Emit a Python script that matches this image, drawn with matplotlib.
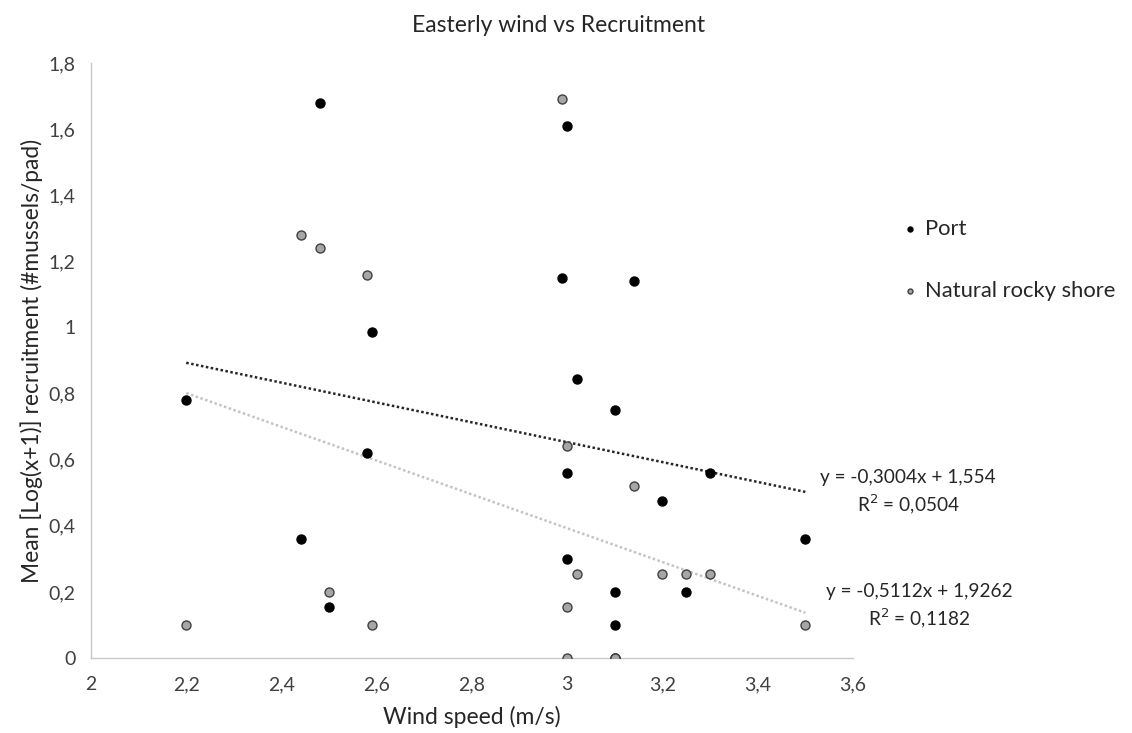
import numpy as np
import matplotlib
matplotlib.use("Agg")
import matplotlib.pyplot as plt

plt.rcParams['font.family'] = ['Lato', 'DejaVu Sans']

# wind speed (m/s), same stations for both series
wind = [2.2, 2.44, 2.48, 2.5, 2.58, 2.59, 2.99, 3.0, 3.0, 3.0,
        3.02, 3.1, 3.1, 3.1, 3.14, 3.2, 3.25, 3.3, 3.5]
port = [0.78, 0.36, 1.68, 0.155, 0.62, 0.985, 1.15, 1.61, 0.56, 0.30,
        0.845, 0.75, 0.20, 0.10, 1.14, 0.475, 0.20, 0.56, 0.36]
natural = [0.10, 1.28, 1.24, 0.20, 1.16, 0.10, 1.69, 0.64, 0.155, 0.0,
           0.255, 0.0, 0.0, 0.0, 0.52, 0.255, 0.255, 0.255, 0.10]

# linear trendlines as reported
port_fit = (-0.3004, 1.554, 0.0504)
nat_fit = (-0.5112, 1.9262, 0.1182)

xticks = [2, 2.2, 2.4, 2.6, 2.8, 3, 3.2, 3.4, 3.6]
yticks = [0, 0.2, 0.4, 0.6, 0.8, 1, 1.2, 1.4, 1.6, 1.8]


def comma(v):
    s = ("%.1f" % v).rstrip("0").rstrip(".")
    return s.replace(".", ",")


fig = plt.figure(figsize=(11.32, 7.33), dpi=100)
ax = fig.add_axes([0.0804, 0.1023, 0.6731, 0.8117])

ax.scatter(wind, port, s=42, c="black", edgecolors="black", linewidths=1,
           zorder=3, label="Port")
ax.scatter(wind, natural, s=42, c="#a6a6a6", edgecolors="#404040", linewidths=1,
           zorder=3, label="Natural rocky shore")

xs = np.array([min(wind), max(wind)])
ax.plot(xs, port_fit[0] * xs + port_fit[1], color="#262626", lw=1.8,
        linestyle=(0, (1, 1)), zorder=2)
ax.plot(xs, nat_fit[0] * xs + nat_fit[1], color="#c4c4c4", lw=1.8,
        linestyle=(0, (1, 1)), zorder=2)

ax.set_xlim(2, 3.6)
ax.set_ylim(0, 1.8)
ax.set_xticks(xticks)
ax.set_yticks(yticks)
ax.set_xticklabels([comma(v) for v in xticks])
ax.set_yticklabels([comma(v) for v in yticks])
ax.tick_params(length=0, labelsize=14, labelcolor="#404040")
ax.tick_params(axis="x", pad=13)
ax.tick_params(axis="y", pad=11)

for side in ["top", "right"]:
    ax.spines[side].set_visible(False)
for side in ["left", "bottom"]:
    ax.spines[side].set_color("#c8c8c8")
    ax.spines[side].set_linewidth(1)

ax.set_xlabel("Wind speed (m/s)", fontsize=16.5, color="#262626", labelpad=9)
ax.set_ylabel("Mean [Log(x+1)] recruitment (#mussels/pad)", fontsize=16.4,
              color="#262626", labelpad=4)
fig.text(559 / 1132, 1 - 25 / 733, "Easterly wind vs Recruitment", ha="center",
         va="center", fontsize=16.5, color="#262626")

fig.text(908 / 1132, 1 - 477 / 733, "y = -0,3004x + 1,554", ha="center", va="center",
         fontsize=13.7, color="#262626")
fig.text(908 / 1132, 1 - 504 / 733, "R$^2$ = 0,0504", ha="center", va="center",
         fontsize=13.7, color="#262626")
fig.text(919 / 1132, 1 - 592 / 733, "y = -0,5112x + 1,9262", ha="center", va="center",
         fontsize=13.7, color="#262626")
fig.text(919 / 1132, 1 - 618 / 733, "R$^2$ = 0,1182", ha="center", va="center",
         fontsize=13.7, color="#262626")

leg = fig.legend(loc="upper left", bbox_to_anchor=(0.777, 0.728), frameon=False,
                 fontsize=15.8, handletextpad=0.15, labelspacing=1.9, markerscale=0.55,
                 handlelength=1.0)
for t in leg.get_texts():
    t.set_color("#262626")

fig.savefig("out.png", dpi=100)
